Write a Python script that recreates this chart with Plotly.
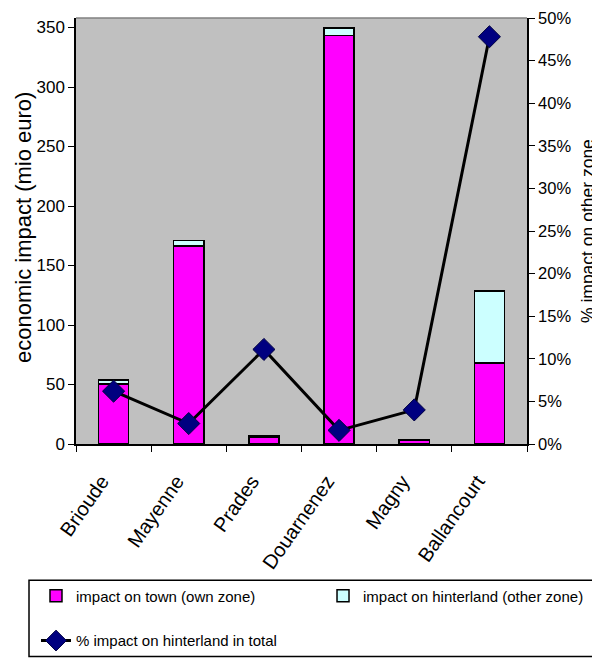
import plotly.graph_objects as go

towns = ["Brioude", "Mayenne", "Prades", "Douarnenez", "Magny", "Ballancourt"]
impact_town = [50.5, 166.5, 6.0, 343.5, 3.2, 68.0]
impact_hinterland = [3.4, 4.5, 0.8, 6.0, 0.15, 60.5]
pct_hinterland = [0.062, 0.024, 0.111, 0.016, 0.040, 0.478]

left_ticks = [0, 50, 100, 150, 200, 250, 300, 350]
right_ticks = [0, 0.05, 0.10, 0.15, 0.20, 0.25, 0.30, 0.35, 0.40, 0.45, 0.50]

FONT = "Liberation Sans, Arial, sans-serif"
LEG_FONT = dict(family=FONT, size=15, color="black")

fig = go.Figure()
fig.add_trace(go.Bar(
    x=towns, y=impact_town, name="impact on town (own zone)",
    marker=dict(color="#FF00FF", line=dict(color="black", width=1.5)),
    legend="legend",
))
fig.add_trace(go.Bar(
    x=towns, y=impact_hinterland, name="impact on hinterland (other zone)",
    marker=dict(color="#CCFFFF", line=dict(color="black", width=1.5)),
    legend="legend2",
))
fig.add_trace(go.Scatter(
    x=towns, y=pct_hinterland, name="% impact on hinterland in total",
    yaxis="y2", mode="lines+markers",
    line=dict(color="black", width=3),
    marker=dict(symbol="diamond", size=17, color="#000080",
                line=dict(color="#000040", width=1)),
    legend="legend3",
))

common_leg = dict(orientation="h", xanchor="left", yanchor="middle",
                  bgcolor="rgba(0,0,0,0)", borderwidth=0, font=LEG_FONT)

# The page places the figure 8px in from the top-left corner, so the figure
# is 8px smaller than the window and margins are reduced on the left/top.
fig.update_layout(
    width=592, height=650,
    margin=dict(l=68, r=73, t=10, b=214, autoexpand=False),
    paper_bgcolor="white", plot_bgcolor="#C0C0C0",
    barmode="stack", bargap=0.6,
    font=dict(family=FONT, color="black"),
    showlegend=True,
    legend=dict(x=-0.0887, y=-0.357, **common_leg),
    legend2=dict(x=0.5477, y=-0.357, **common_leg),
    legend3=dict(x=-0.0887, y=-0.462, **common_leg),
    xaxis=dict(
        showline=True, linecolor="black", linewidth=1.5,
        ticks="outside", ticklen=6, tickcolor="black", tickson="boundaries",
        tickangle=-55, tickfont=dict(family=FONT, size=20),
        ticklabelstandoff=16, ticklabelshift=-12,
        showgrid=False,
    ),
    yaxis=dict(
        range=[0, 358], tickvals=left_ticks,
        showline=True, linecolor="black", linewidth=1.5,
        ticks="outside", ticklen=6, tickcolor="black",
        tickfont=dict(family=FONT, size=17), ticklabeloverflow="allow",
        showgrid=False, zeroline=False,
    ),
    yaxis2=dict(
        range=[0, 0.5], tickvals=right_ticks, tickformat=".0%",
        overlaying="y", side="right",
        showline=True, linecolor="black", linewidth=1.5,
        ticks="outside", ticklen=6, tickcolor="black",
        tickfont=dict(family=FONT, size=16.5), ticklabeloverflow="allow",
        showgrid=False, zeroline=False,
    ),
    annotations=[
        dict(text="economic impact (mio euro)", textangle=-90,
             xref="paper", yref="paper", x=0, y=0.5, xshift=-53, yshift=3,
             xanchor="center", yanchor="middle", showarrow=False,
             font=dict(family=FONT, size=22)),
        dict(text="% impact on other zone", textangle=-90,
             xref="paper", yref="paper", x=1, y=0.5, xshift=61, yshift=0,
             xanchor="center", yanchor="middle", showarrow=False,
             font=dict(family=FONT, size=17.5)),
    ],
    shapes=[
        dict(type="line", xref="paper", yref="paper", x0=0, x1=1, y0=1, y1=1,
             line=dict(color="#808080", width=1.5)),
        dict(type="rect", xref="paper", yref="paper",
             x0=-0.1042, x1=1.2, y0=-0.320, y1=-0.499,
             line=dict(color="black", width=1.5), fillcolor="rgba(0,0,0,0)"),
    ],
)

fig.write_html("out.html")
